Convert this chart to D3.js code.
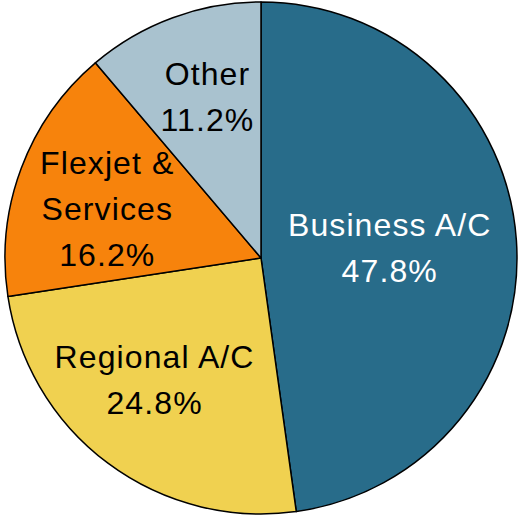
<!DOCTYPE html>
<html>
<head>
<meta charset="utf-8">
<script src="https://cdn.jsdelivr.net/npm/d3@7"></script>
<style>
  body { margin: 0; background: #fff; }
  svg { display: block; }
</style>
</head>
<body>
<svg id="chart" width="518" height="517"></svg>
<script>
const categories = ["Business A/C", "Regional A/C", "Flexjet &\nServices", "Other"];
const values = [47.8, 24.8, 16.2, 11.2];
const colors = ["#286c8a", "#f0d150", "#f7830c", "#a9c2cf"];
const labelColors = ["#fff", "#000", "#000", "#000"];
// label distance from centre (share of radius) and a small nudge, like excel's best fit
const labelRadius = [0.504, 0.63, 0.633, 0.664];
const labelNudge = [[0, -2], [-10, -8], [-2, 7], [5, -2]];

const svg = d3.select("#chart");
const cx = 261, cy = 258, radius = 256;

const pie = d3.pie().sort(null).value(d => d.value);
const arc = d3.arc().innerRadius(0).outerRadius(radius);

const data = categories.map((c, i) => ({ name: c, value: values[i], i: i }));
const arcs = pie(data);

const g = svg.append("g").attr("transform", `translate(${cx},${cy})`);

g.selectAll("path")
  .data(arcs)
  .enter()
  .append("path")
  .attr("d", arc)
  .attr("fill", d => colors[d.data.i])
  .attr("stroke", "#000")
  .attr("stroke-width", 1.5)
  .attr("stroke-linejoin", "round");

const fontSize = 32;
const lineHeight = 46;

arcs.forEach(d => {
  const i = d.data.i;
  const r = radius * labelRadius[i];
  const c = d3.arc().innerRadius(r).outerRadius(r).centroid(d);
  const x = c[0] + labelNudge[i][0];
  const y = c[1] + labelNudge[i][1];
  const lines = d.data.name.split("\n").concat([d.data.value.toFixed(1) + "%"]);
  const top = y - (lines.length - 1) * lineHeight / 2;
  const text = g.append("text")
    .attr("text-anchor", "middle")
    .attr("font-family", "'Liberation Sans', Arial, sans-serif")
    .attr("font-size", fontSize)
    .attr("letter-spacing", 1.1)
    .attr("fill", labelColors[i]);
  lines.forEach((line, k) => {
    text.append("tspan")
      .attr("x", x)
      .attr("y", top + k * lineHeight + fontSize * 0.36)
      .text(line);
  });
});
</script>
</body>
</html>
